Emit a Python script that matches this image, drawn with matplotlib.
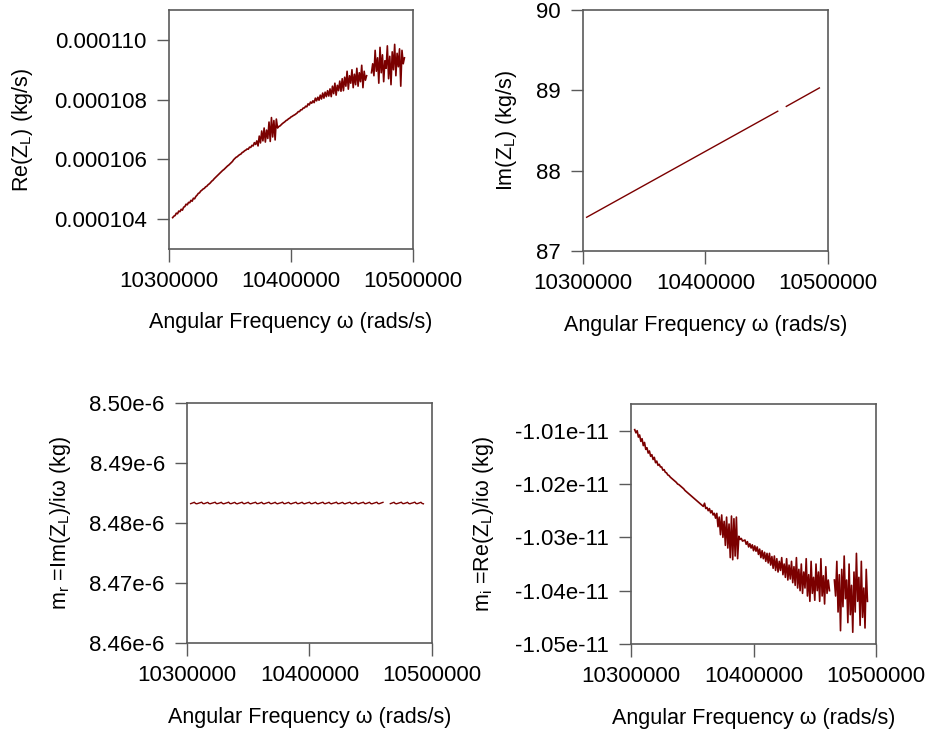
import matplotlib
matplotlib.use("Agg")
import matplotlib.pyplot as plt
import numpy as np
from matplotlib.ticker import FuncFormatter

plt.rcParams["font.family"] = ["Liberation Sans", "DejaVu Sans"]
plt.rcParams["mathtext.fontset"] = "custom"
plt.rcParams["mathtext.rm"] = "Liberation Sans"
plt.rcParams["mathtext.it"] = "Liberation Sans:italic"

nan = np.nan

# frequency sweep (rads/s), one sample every 1000 rads/s
omega_start = 10303000
omega_step = 1000

# Re(Z_L), in units of 1e-6 kg/s
re_zl = [
    104.05, 104.10, 104.12, 104.20, 104.18, 104.27, 104.25, 104.33, 104.30, 104.40,
    104.42, 104.50, 104.48, 104.56, 104.55, 104.63, 104.60, 104.70, 104.68, 104.76,
    104.80, 104.86, 104.88, 104.94, 104.97, 105.01, 105.03, 105.08, 105.10, 105.15,
    105.18, 105.22, 105.27, 105.30, 105.35, 105.39, 105.43, 105.47, 105.51, 105.55,
    105.59, 105.63, 105.66, 105.70, 105.74, 105.78, 105.81, 105.85, 105.89, 105.93,
    105.99, 106.03, 106.07, 106.09, 106.13, 106.16, 106.18, 106.23, 106.25, 106.29,
    106.31, 106.35, 106.34, 106.41, 106.40, 106.47, 106.45, 106.56, 106.50, 106.62,
    106.45, 106.78, 106.55, 106.95, 106.62, 107.05, 106.58, 106.98, 106.70, 107.25,
    106.60, 107.40, 106.75, 107.30, 106.65, 107.35, 107.05, 107.10, 107.12, 107.16,
    107.20, 107.23, 107.26, 107.30, 107.32, 107.36, 107.38, 107.42, 107.44, 107.47,
    107.49, 107.52, 107.55, 107.60, 107.60, 107.66, 107.66, 107.72, 107.72, 107.78,
    107.76, 107.86, 107.82, 107.92, 107.88, 107.96, 107.90, 108.05, 107.96, 108.08,
    107.98, 108.15, 108.02, 108.22, 108.05, 108.25, 108.10, 108.30, 108.12, 108.36,
    108.10, 108.45, 108.20, 108.55, 108.15, 108.48, 108.30, 108.62, 108.28, 108.70,
    108.30, 108.75, 108.45, 108.95, 108.35, 108.80, 108.55, 109.00, 108.40, 108.85,
    108.50, 109.05, 108.45, 108.90, 108.60, 109.15, 108.40, 108.95, 108.65, 108.80,
    nan, nan, nan, 108.90, 109.20, 108.80, 109.65, 108.95, 109.40, 108.55,
    109.75, 108.90, 109.50, 108.60, 109.30, 109.05, 109.80, 108.70, 109.45, 108.50,
    109.60, 109.00, 109.85, 108.80, 109.55, 109.10, 109.70, 108.45, 109.65, 109.20,
    109.40,
]

# Im(Z_L) (kg/s), a straight run with one dropout
im_omega = [10303000, 10459000, 10462000, 10466000, 10493000]
im_zl = [87.42, 88.74, nan, 88.80, 89.03]

# m_r = Im(Z_L)/i omega, in units of 1e-6 kg
m_r = [
    8.48322, 8.48329, 8.48337, 8.48345, 8.48325, 8.48320, 8.48327, 8.48333, 8.48339, 8.48346, 8.48324,
    8.48322, 8.48330, 8.48337, 8.48344, 8.48324, 8.48321, 8.48327, 8.48334, 8.48340, 8.48346, 8.48323,
    8.48323, 8.48329, 8.48336, 8.48345, 8.48325, 8.48320, 8.48326, 8.48333, 8.48339, 8.48347, 8.48324,
    8.48322, 8.48329, 8.48337, 8.48344, 8.48325, 8.48319, 8.48327, 8.48333, 8.48339, 8.48346, 8.48324,
    8.48322, 8.48330, 8.48337, 8.48345, 8.48325, 8.48320, 8.48327, 8.48334, 8.48339, 8.48346, 8.48323,
    8.48323, 8.48329, 8.48337, 8.48345, 8.48324, 8.48320, 8.48327, 8.48333, 8.48340, 8.48346, 8.48324,
    8.48322, 8.48329, 8.48336, 8.48345, 8.48325, 8.48320, 8.48328, 8.48333, 8.48339, 8.48347, 8.48324,
    8.48322, 8.48330, 8.48337, 8.48344, 8.48325, 8.48319, 8.48327, 8.48333, 8.48339, 8.48346, 8.48323,
    8.48323, 8.48329, 8.48337, 8.48345, 8.48325, 8.48320, 8.48327, 8.48334, 8.48339, 8.48346, 8.48324,
    8.48322, 8.48329, 8.48337, 8.48345, 8.48324, 8.48320, 8.48327, 8.48333, 8.48340, 8.48346, 8.48324,
    8.48322, 8.48330, 8.48336, 8.48345, 8.48325, 8.48320, 8.48328, 8.48333, 8.48339, 8.48347, 8.48323,
    8.48323, 8.48329, 8.48337, 8.48344, 8.48325, 8.48319, 8.48327, 8.48333, 8.48339, 8.48346, 8.48324,
    8.48322, 8.48329, 8.48337, 8.48345, 8.48325, 8.48320, 8.48327, 8.48334, 8.48339, 8.48346, 8.48324,
    8.48322, 8.48330, 8.48337, 8.48345, 8.48324, 8.48320, 8.48327, 8.48333, 8.48340, 8.48346, 8.48323,
    8.48322, 8.48330, 8.48337, 8.48344,
    nan, nan, nan, nan, nan,
    8.48322, 8.48329, 8.48337, 8.48345, 8.48325, 8.48320, 8.48327, 8.48333, 8.48339, 8.48346, 8.48324,
    8.48323, 8.48329, 8.48336, 8.48345, 8.48325, 8.48320, 8.48328, 8.48333, 8.48340, 8.48347, 8.48324,
    8.48322, 8.48329, 8.48337, 8.48345, 8.48325, 8.48320,
]

# m_i = Re(Z_L)/i omega, in units of 1e-11 kg
m_i = [
    -1.0098, -1.0104, -1.0100, -1.0112, -1.0108, -1.0120, -1.0115, -1.0128, -1.0122, -1.0135,
    -1.0132, -1.0142, -1.0138, -1.0148, -1.0145, -1.0154, -1.0150, -1.0160, -1.0157, -1.0165,
    -1.0163, -1.0168, -1.0168, -1.0174, -1.0173, -1.0178, -1.0179, -1.0183, -1.0184, -1.0187,
    -1.0189, -1.0191, -1.0193, -1.0195, -1.0197, -1.0200, -1.0201, -1.0203, -1.0205, -1.0207,
    -1.0209, -1.0212, -1.0214, -1.0216, -1.0218, -1.0220, -1.0222, -1.0224, -1.0226, -1.0228,
    -1.0230, -1.0232, -1.0234, -1.0236, -1.0238, -1.0240, -1.0242, -1.0236, -1.0246, -1.0244,
    -1.0250, -1.0246, -1.0254, -1.0250, -1.0258, -1.0255, -1.0264,
    -1.0255, -1.0280, -1.0262, -1.0295, -1.0258, -1.0300, -1.0270, -1.0315, -1.0262, -1.0320,
    -1.0275, -1.0338, -1.0260, -1.0342, -1.0265, -1.0335, -1.0262, -1.0340,
    -1.0298, -1.0304, -1.0302, -1.0307, -1.0306,
    -1.0305, -1.0313, -1.0308, -1.0318, -1.0312, -1.0320, -1.0314, -1.0325, -1.0316, -1.0326,
    -1.0318, -1.0332, -1.0322, -1.0338, -1.0325, -1.0340, -1.0328, -1.0345, -1.0330, -1.0348,
    -1.0330, -1.0352, -1.0336, -1.0358, -1.0335, -1.0362, -1.0340, -1.0365, -1.0345, -1.0362,
    -1.0338, -1.0370, -1.0350, -1.0375, -1.0340, -1.0380, -1.0352, -1.0378, -1.0345, -1.0385,
    -1.0355, -1.0390, -1.0338, -1.0395, -1.0360, -1.0400, -1.0350, -1.0405, -1.0365, -1.0395,
    -1.0340, -1.0410, -1.0370, -1.0420, -1.0345, -1.0405, -1.0375, -1.0418, -1.0350, -1.0400,
    -1.0365, -1.0420, -1.0340, -1.0410, -1.0372, -1.0425, -1.0355, -1.0405, -1.0380, -1.0400,
    nan, nan, nan,
    -1.0380, -1.0410, -1.0345, -1.0440, -1.0370, -1.0475, -1.0360,
    -1.0430, -1.0335, -1.0415, -1.0380, -1.0460, -1.0350, -1.0445, -1.0390, -1.0478, -1.0365,
    -1.0440, -1.0330, -1.0420, -1.0375, -1.0465, -1.0345, -1.0450, -1.0395, -1.0470, -1.0360,
    -1.0420,
]

x_ticks = [10300000, 10400000, 10500000]
re_ticks = [0.000104, 0.000106, 0.000108, 0.000110]
im_ticks = [87, 88, 89, 90]
mr_ticks = [8.46e-6, 8.47e-6, 8.48e-6, 8.49e-6, 8.50e-6]
mi_ticks = [-1.05e-11, -1.04e-11, -1.03e-11, -1.02e-11, -1.01e-11]

line_color = "#7b0000"
frame_color = "#5a5a5a"
tick_fs = 16
label_fs = 15.5
xlabel = "Angular Frequency \u03c9 (rads/s)"

omega = omega_start + omega_step * np.arange(len(re_zl))

fig = plt.figure(figsize=(9.28, 7.35), dpi=100)
ax1 = fig.add_axes([0.1821, 0.6612, 0.2629, 0.3252])
ax2 = fig.add_axes([0.6282, 0.6585, 0.2640, 0.3279])
ax3 = fig.add_axes([0.2015, 0.1252, 0.2640, 0.3265])
ax4 = fig.add_axes([0.6800, 0.1238, 0.2640, 0.3265])

ax1.plot(omega, np.array(re_zl) * 1e-6, color=line_color, lw=1.2)
ax2.plot(im_omega, im_zl, color=line_color, lw=1.0)
ax3.plot(omega, np.array(m_r) * 1e-6, color=line_color, lw=1.0)
ax4.plot(omega, np.array(m_i) * 1e-11, color=line_color, lw=1.2)

ax1.set_ylim(0.000103, 0.000111)
ax1.set_yticks(re_ticks)
ax1.yaxis.set_major_formatter(FuncFormatter(lambda v, p: f"{v:.6f}"))
ax1.set_ylabel(r"Re(Z$_{\mathrm{L}}$) (kg/s)", fontsize=label_fs)
ax1.yaxis.set_label_coords(-0.549, 0.5)

ax2.set_ylim(87, 90)
ax2.set_yticks(im_ticks)
ax2.yaxis.set_major_formatter(FuncFormatter(lambda v, p: f"{v:.0f}"))
ax2.set_ylabel(r"Im(Z$_{\mathrm{L}}$) (kg/s)", fontsize=label_fs)
ax2.yaxis.set_label_coords(-0.261, 0.5)

ax3.set_ylim(8.46e-6, 8.50e-6)
ax3.set_yticks(mr_ticks)
ax3.yaxis.set_major_formatter(FuncFormatter(lambda v, p: f"{v * 1e6:.2f}e-6"))
ax3.set_ylabel("m$_{\\mathrm{r}}$ =Im(Z$_{\\mathrm{L}}$)/i\u03c9 (kg)", fontsize=label_fs)
ax3.yaxis.set_label_coords(-0.465, 0.5)

ax4.set_ylim(-1.05e-11, -1.005e-11)
ax4.set_yticks(mi_ticks)
ax4.yaxis.set_major_formatter(FuncFormatter(lambda v, p: f"{v * 1e11:.2f}e-11"))
ax4.set_ylabel("m$_{\\mathrm{i}}$ =Re(Z$_{\\mathrm{L}}$)/i\u03c9 (kg)", fontsize=label_fs)
ax4.yaxis.set_label_coords(-0.551, 0.5)

for ax in (ax1, ax2, ax3, ax4):
    ax.set_xlim(10300000, 10500000)
    ax.set_xticks(x_ticks)
    ax.xaxis.set_major_formatter(FuncFormatter(lambda v, p: f"{v:.0f}"))
    ax.set_xlabel(xlabel, fontsize=label_fs)
    ax.xaxis.set_label_coords(0.5, -0.265)
    ax.tick_params(direction="out", length=9, width=1, color=frame_color,
                   labelsize=tick_fs, pad=7)
    for s in ax.spines.values():
        s.set_color(frame_color)
        s.set_linewidth(1.2)

fig.savefig("out.png", dpi=100)
